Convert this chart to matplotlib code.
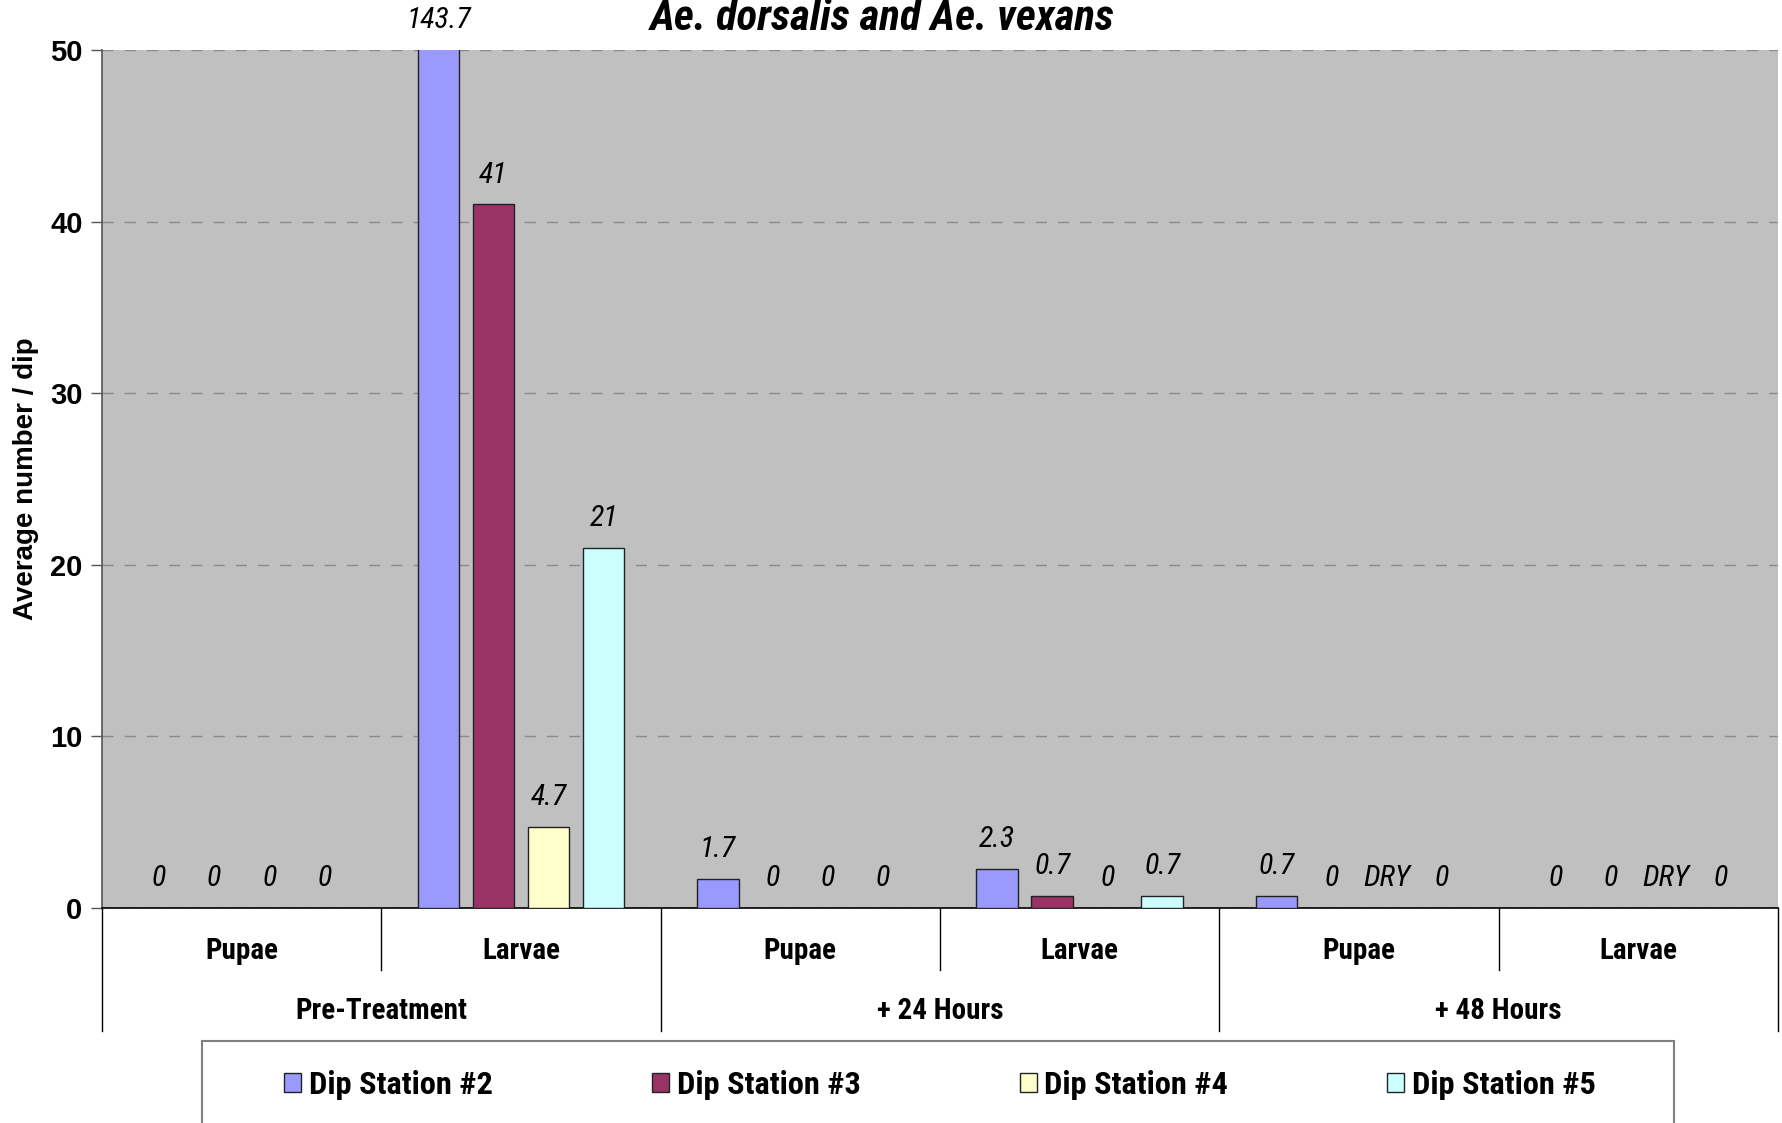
import numpy as np
import matplotlib as mpl
from matplotlib import pyplot as plt
from matplotlib import transforms
from matplotlib import font_manager
from matplotlib.patches import Rectangle

##########################################################################################
# data

title = 'Ae. dorsalis and Ae. vexans'
ylabel = 'Average number / dip'

periods = ['Pre-Treatment', '+ 24 Hours', '+ 48 Hours']
stages = ['Pupae', 'Larvae']

seriesNames = ['Dip Station #2', 'Dip Station #3', 'Dip Station #4', 'Dip Station #5']

# one value per (period, stage) group, None = station was dry
station2 = [0, 143.7, 1.7, 2.3, 0.7, 0]
station3 = [0, 41, 0, 0.7, 0, 0]
station4 = [0, 4.7, 0, 0, None, None]
station5 = [0, 21, 0, 0.7, 0, 0]

yTicks = [0, 10, 20, 30, 40, 50]

##########################################################################################
# style

pColors = ['#9999FF', '#993366', '#FFFFCC', '#CCFFFF']

# the original uses a condensed face; take one if there is any, else plain Liberation
installed = {fe.name for fe in font_manager.fontManager.ttflist}
narrowName = next((n for n in ['Liberation Sans Narrow', 'Arial Narrow',
                               'Roboto Condensed', 'Open Sans Condensed']
                   if n in installed), None)
regular = ['Liberation Sans', 'DejaVu Sans']
if narrowName:
    narrow = [narrowName] + regular
    fs = 1.0
else:
    narrow = regular
    fs = 0.85

mpl.rcParams['font.family'] = narrow

W, H = 1782, 1123
f = plt.figure(figsize = (W / 100.0, H / 100.0), dpi = 100)

axL, axR, axT, axB = 102, 1778, 50, 908
ax1 = f.add_axes([axL / W, 1 - axB / H, (axR - axL) / W, (axB - axT) / H])
ax1.set_facecolor('#C0C0C0')

for side in ['top', 'right']:
    ax1.spines[side].set_visible(False)
ax1.spines['left'].set_color('#555555')
ax1.spines['left'].set_linewidth(1.2)
ax1.spines['bottom'].set_color('black')
ax1.spines['bottom'].set_linewidth(1.2)

##########################################################################################
# bars

allSeries = [station2, station3, station4, station5]
nGroups = len(periods) * len(stages)
centers = np.arange(nGroups) + 0.5
barWidth = 0.15
step = 0.197
yMax = yTicks[-1]

for k, vals in enumerate(allSeries):
    xs = centers + (k - 1.5) * step
    heights = [np.nan if v is None else v for v in vals]
    ax1.bar(xs, heights, width = barWidth,
            color = pColors[k], edgecolor = '#222222', linewidth = 1.0,
            zorder = 3, label = seriesNames[k])
    for x, v in zip(xs, vals):
        txt = 'DRY' if v is None else '%g' % v
        yv = 0 if v is None else min(v, yMax)
        ax1.annotate(txt, xy = (x, yv), xytext = (0, 21.5), textcoords = 'offset points',
                     ha = 'center', va = 'center', fontsize = 21.5 * fs, style = 'italic',
                     annotation_clip = False, zorder = 5)

##########################################################################################
# axes

ax1.set_xlim(0, nGroups)
ax1.set_ylim(0, yMax)
ax1.set_xticks([])
ax1.set_yticks(yTicks)
ax1.set_yticklabels([str(t) for t in yTicks], family = regular,
                    fontsize = 21, fontweight = 'bold')
ax1.tick_params(axis = 'y', length = 8, width = 1.0, color = '#555555', pad = 6)

ax1.yaxis.grid(True, color = '#8a8a8a', linestyle = (0, (8, 8)), linewidth = 1.0)
ax1.set_axisbelow(True)

ax1.set_ylabel(ylabel, family = regular, fontsize = 20, fontweight = 'bold')
ax1.yaxis.set_label_coords(-0.0376, 0.5)

##########################################################################################
# two level category axis

trans = transforms.blended_transform_factory(ax1.transData, ax1.transAxes)
axH = float(axB - axT)
lvl1Bottom = -(970 - axB) / axH
lvl2Bottom = -(1031 - axB) / axH

for i in range(nGroups + 1):
    yb = lvl2Bottom if i % len(stages) == 0 else lvl1Bottom
    ax1.plot([i, i], [0, yb], color = 'black', lw = 1.0, transform = trans,
             clip_on = False)

for i in range(nGroups):
    ax1.text(centers[i], -(951 - axB) / axH, stages[i % len(stages)],
             transform = trans, ha = 'center', va = 'center',
             fontsize = 21 * fs, fontweight = 'bold')

for j, p in enumerate(periods):
    ax1.text(j * len(stages) + len(stages) / 2.0, -(1011 - axB) / axH, p,
             transform = trans, ha = 'center', va = 'center',
             fontsize = 21 * fs, fontweight = 'bold')

##########################################################################################
# title and legend

f.text(882 / W, 1 - 19 / H, title, ha = 'center', va = 'center',
       fontsize = 31 * fs, fontweight = 'bold', style = 'italic')

f.patches.append(Rectangle((202 / W, -0.1), (1674 - 202) / W, 0.1 + 1 - 1041 / H,
                           transform = f.transFigure, facecolor = 'white',
                           edgecolor = '#808080', linewidth = 1.5, zorder = 0))

legSize = 24 * fs * 0.97
legPx = legSize * 100 / 72.0
leg = f.legend(loc = 'center', bbox_to_anchor = (940 / W, 1 - 1085 / H),
               ncol = 4, frameon = False,
               prop = {'weight': 'bold', 'size': legSize},
               handlelength = 17 / legPx, handleheight = 18 / legPx,
               handletextpad = 8 / legPx, columnspacing = 159 / legPx)

f.savefig('out.png', dpi = 100)
